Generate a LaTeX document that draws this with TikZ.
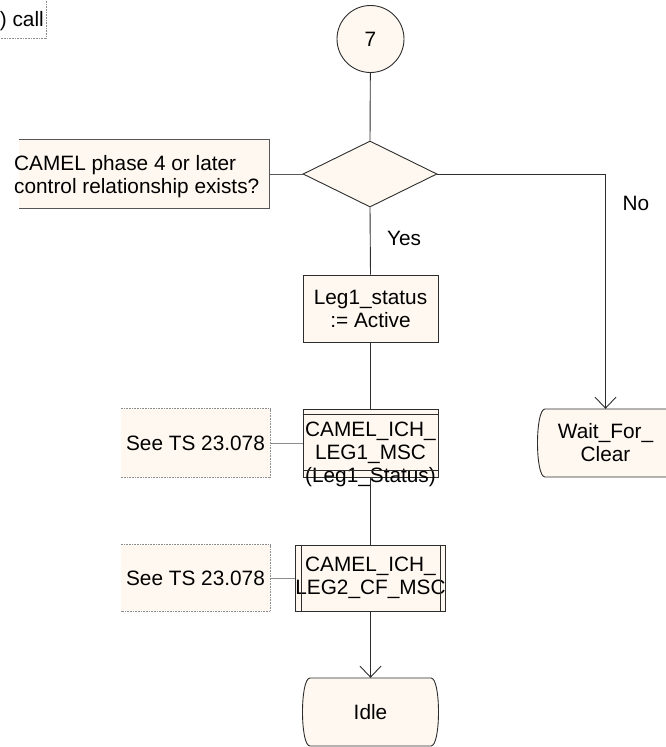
\documentclass[tikz,border=0pt]{standalone}
\usepackage{fontspec}
\setmainfont{Liberation Sans}
\usetikzlibrary{shapes.geometric,arrows.meta,calc}
\definecolor{sdlfill}{RGB}{255,248,240}
\definecolor{sdlline}{RGB}{45,45,45}
\definecolor{cmtline}{RGB}{140,140,140}
\begin{document}
\begin{tikzpicture}[x=1pt,y=-1pt,
  every node/.style={font=\fontsize{20.8}{23}\selectfont, text=black, inner sep=0pt},
  flow/.style={draw=sdlline, line width=0.9pt},
  arr/.style={flow, -{Straight Barb[length=11pt,width=21pt,line width=0.9pt]}},
  sbox/.style={draw=sdlline, fill=sdlfill, line width=0.9pt, minimum width=135pt, minimum height=67pt, align=center},
  blank/.style={minimum width=135pt, minimum height=68pt, align=center},
  decision/.style={diamond, draw=sdlline, fill=sdlfill, line width=0.9pt, minimum width=134pt, minimum height=66pt},
  connector/.style={circle, draw=sdlline, fill=sdlfill, line width=0.9pt, minimum size=67pt},
  cmtfill/.style={fill=sdlfill, draw=none, align=center},
  cmtedge/.style={draw=cmtline, line width=0.8pt, dash pattern=on 1pt off 0.6pt},
  cmtdark/.style={draw=sdlline!80, line width=0.9pt},
  lbl/.style={align=center}
]
\useasboundingbox (0,0) rectangle (665,747);

% top-left partial comment
\path[fill=white, cmtedge] (-3,-3) -- (46,-3) -- (46,38) -- (-3,38);
\node[anchor=base east] (tltext) at (44,26) {) call};

% state symbols (drawn first)
\filldraw[fill=sdlfill, draw=sdlline, line width=0.9pt]
  (545,409) -- (666,409) .. controls (676,409) and (676,477) .. (666,477)
  -- (545,477) .. controls (535,477) and (535,409) .. cycle;
\filldraw[fill=sdlfill, draw=sdlline, line width=0.9pt]
  (310,678) -- (431,678) .. controls (441,678) and (441,746) .. (431,746)
  -- (310,746) .. controls (300,746) and (300,678) .. cycle;

% nodes
\node[connector] (c7) at (370.5,39) {7};
\node[decision] (d1) at (370,174) {};
\node[sbox] (leg) at (370.5,308.5) {Leg1\_status\\:= Active};
\node[sbox, minimum height=68pt] (p1) at (370.5,443) {};
\node[lbl] (p1t) at (370.5,454) {CAMEL\_ICH\_\\LEG1\_MSC\\(Leg1\_Status)};
\node[sbox, minimum height=66pt] (p2) at (370.5,578) {CAMEL\_ICH\_\\LEG2\_CF\_MSC};
\node[blank] (wait) at (605.5,443) {Wait\_For\_\\Clear};
\node[blank] (idle) at (370.5,712) {Idle};

% macro / procedure decorations
\draw[flow] ($(p1.north west)+(0,6)$) -- ($(p1.north east)+(0,6)$);
\draw[flow] ($(p1.south west)+(0,-7)$) -- ($(p1.south east)+(0,-7)$);
\draw[flow] ($(p2.north west)+(7,0)$) -- ($(p2.south west)+(7,0)$);
\draw[flow] ($(p2.north east)+(-6,0)$) -- ($(p2.south east)+(-6,0)$);

% comments
\node[cmtfill, minimum width=250pt, minimum height=68pt] (cm1) at (144,174) {};
\draw[cmtdark] (cm1.north west) -- (cm1.north east) -- (cm1.south east) -- (cm1.south west);
\node[anchor=west, align=left] (cm1t) at (14,177) {CAMEL phase 4 or later\\control relationship exists?};

\node[cmtfill, minimum width=149pt, minimum height=68pt] (cm2) at (195.5,443) {See TS 23.078};
\draw[cmtedge] (cm2.north west) -- (cm2.north east) -- (cm2.south east) -- (cm2.south west);
\node[cmtfill, minimum width=149pt, minimum height=66pt] (cm3) at (195.5,578) {See TS 23.078};
\draw[cmtedge] (cm3.north west) -- (cm3.north east) -- (cm3.south east) -- (cm3.south west);

% connectors
\draw[flow] (c7) -- (d1.north);
\draw[flow] (d1.south) -- (leg.north);
\draw[flow] (leg.south) -- (p1.north);
\draw[flow] (p1.south) -- (p2.north);
\draw[arr] (p2.south) -- (idle.north);
\draw[arr] (d1.east) -| (wait.north);
\draw[cmtdark] (cm1.east) -- (d1.west);
\draw[draw=cmtline, line width=0.8pt] (cm2.east) -- (p1.west);
\draw[draw=cmtline, line width=0.8pt] (cm3.east) -- (p2.west);

% labels
\node (yes) at (404,238) {Yes};
\node (no) at (636,203) {No};
\end{tikzpicture}
\end{document}
